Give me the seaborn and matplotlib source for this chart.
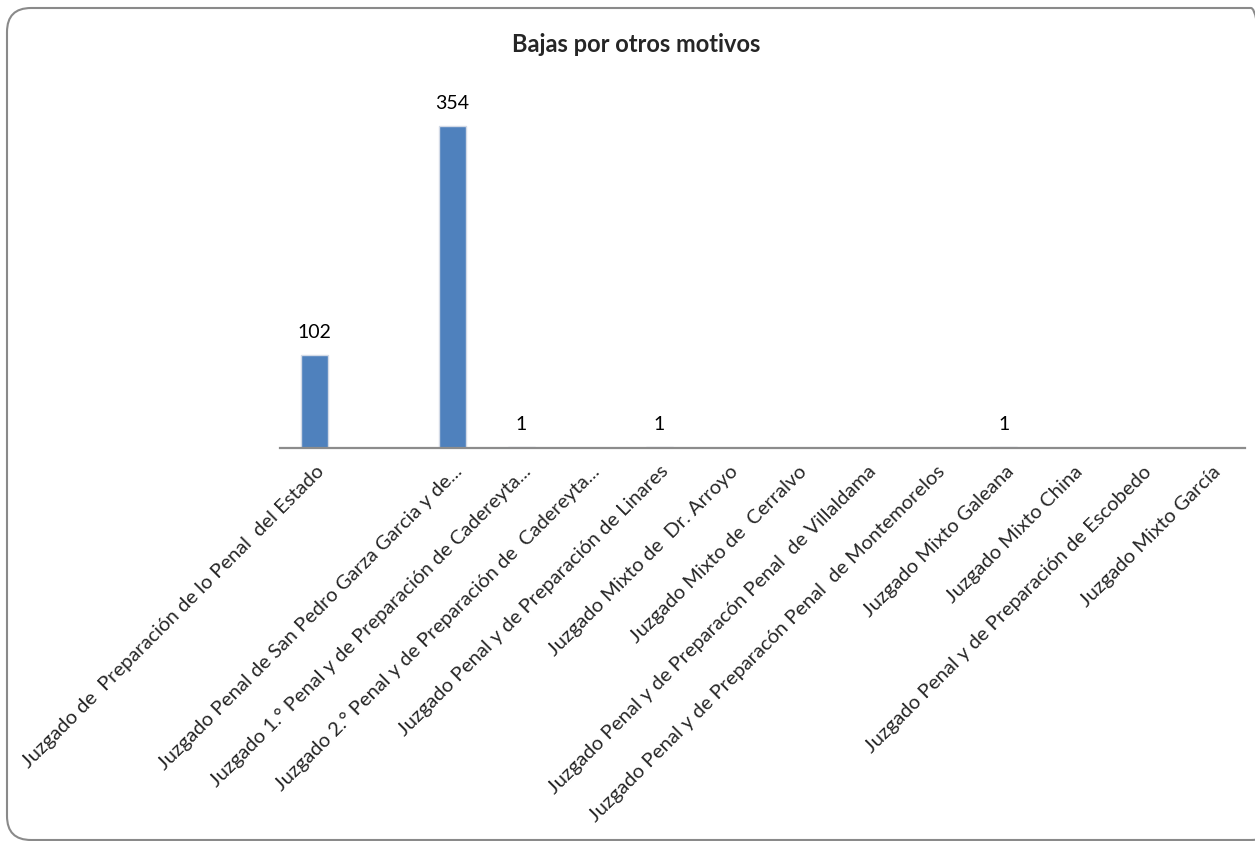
import matplotlib
matplotlib.use("Agg")
import matplotlib.pyplot as plt
import matplotlib.transforms as mtransforms
from matplotlib.patches import FancyBboxPatch
import pandas as pd
import seaborn as sns

# Chart data
categories = [
    "Juzgado de  Preparación de lo Penal  del Estado",
    "",
    "Juzgado Penal de San Pedro Garza Garcia y de...",
    "Juzgado 1.° Penal y de Preparación de Cadereyta...",
    "Juzgado 2.° Penal y de Preparación de  Cadereyta...",
    "Juzgado Penal y de Preparación de Linares",
    "Juzgado Mixto de  Dr. Arroyo",
    "Juzgado Mixto de  Cerralvo",
    "Juzgado Penal y de Preparacón Penal  de Villaldama",
    "Juzgado Penal y de Preparacón Penal  de Montemorelos",
    "Juzgado Mixto Galeana",
    "Juzgado Mixto China",
    "Juzgado Penal y de Preparación de Escobedo",
    "Juzgado Mixto García",
]
values = [102, None, 354, 1, None, 1, None, None, None, None, 1, None, None, None]
title = "Bajas por otros motivos"

sns.set_theme(style="white")
plt.rcParams['font.family'] = ['Lato', 'DejaVu Sans']

df = pd.DataFrame({"juzgado": range(len(categories)),
                   "bajas": [v if v is not None else 0 for v in values]})

fig = plt.figure(figsize=(12.55, 8.41), dpi=100)
ax = fig.add_axes([0.2231, 0.4673, 0.992 - 0.2231, 0.900 - 0.4673])

sns.barplot(data=df, x="juzgado", y="bajas", color="#4F81BD", saturation=1,
            width=0.39, edgecolor="#d3dae6", linewidth=1.0, ax=ax)

ax.set_xlim(-0.5, len(categories) - 0.5)
ax.set_ylim(0, 400)
ax.set_xlabel("")
ax.set_ylabel("")
ax.set_yticks([])
for side in ["top", "right", "left"]:
    ax.spines[side].set_visible(False)
ax.spines["bottom"].set_color("#8c8c8c")
ax.spines["bottom"].set_linewidth(1.6)
ax.patch.set_alpha(0)

ax.set_xticks(range(len(categories)))
ax.set_xticklabels(categories, rotation=45, ha="right", va="center",
                   rotation_mode="anchor", fontsize=14.5)
ax.tick_params(axis="x", length=0, pad=15)
shift = mtransforms.ScaledTranslation(7 / 100, 0, fig.dpi_scale_trans)
for lbl in ax.get_xticklabels():
    lbl.set_transform(lbl.get_transform() + shift)

# data labels
for i, v in enumerate(values):
    if v is not None:
        ax.annotate(str(v), (i, v), xytext=(0, 10), textcoords="offset points",
                    ha="center", va="bottom", fontsize=14, color="#000000")

fig.text(0.507, 1 - 45 / 841, title, ha="center", va="center",
         fontsize=17, fontweight="bold")

# rounded chart border (pixel coordinates)
border = FancyBboxPatch((7, 1), 1275 - 7, 832,
                        boxstyle="round,pad=0,rounding_size=24",
                        transform=mtransforms.IdentityTransform(), facecolor="none",
                        edgecolor="#8a8a8a", linewidth=1.5, clip_on=False)
fig.patches.append(border)

fig.savefig("out.png", dpi=100)
